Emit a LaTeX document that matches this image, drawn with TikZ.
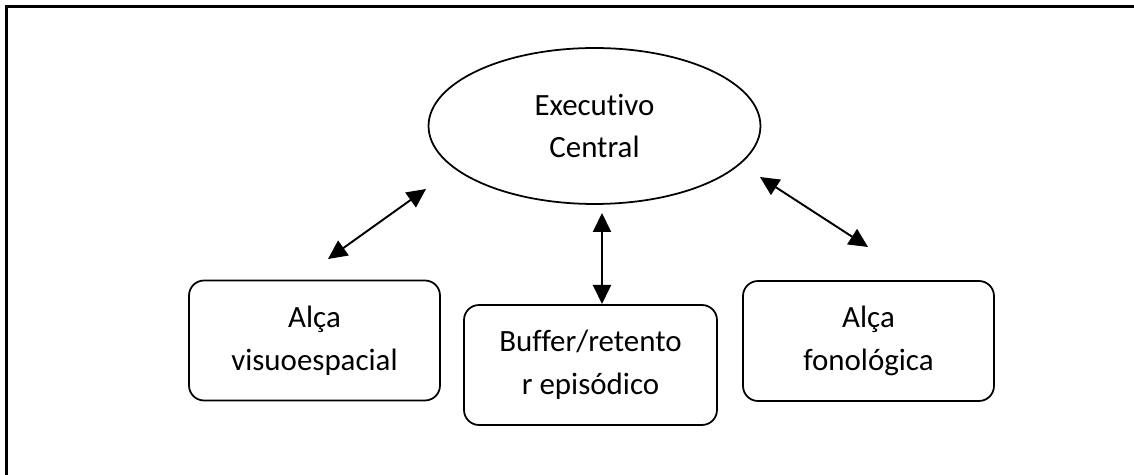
\documentclass[tikz,border=0pt]{standalone}
\usepackage{fontspec}
\setmainfont[Ligatures=NoCommon]{Carlito}
\usetikzlibrary{shapes.geometric,arrows.meta}

\begin{document}
\begin{tikzpicture}[x=0.02cm,y=-0.02cm,
	box/.style={draw, line width=1pt, rounded corners=0.3cm, minimum width=5.02cm, minimum height=2.4cm, align=center, inner sep=0pt, font=\fontsize{17.6}{24.4}\selectfont},
	dbl/.style={{Triangle[length=0.38cm,width=0.36cm]}-{Triangle[length=0.38cm,width=0.36cm]}, line width=1.1pt}]
	%\draw[help lines] (0,0) grid[step=50] (1134,475);
	\useasboundingbox (0,0) rectangle (1134,475);
	\draw[line width=1.3pt] (1134,6.5) -- (6.5,6.5) -- (6.5,475);
	\node[draw, ellipse, line width=1pt, minimum width=6.64cm, minimum height=3.12cm, inner sep=0pt, align=center, font=\fontsize{17.6}{24.4}\selectfont] (exec) at (594.5,126) {Executivo\\Central};
	\node[box] (visuo) at (314.5,340.5) {Alça\\visuoespacial};
	\node[box, minimum width=5.06cm] (buffer) at (590.5,365) {Buffer/retento\\r episódico};
	\node[box] (fono) at (868.5,341) {Alça\\fonológica};
	\coordinate (v1) at (328,259);
	\coordinate (v2) at (426,189);
	\coordinate (b1) at (602,304);
	\coordinate (b2) at (602,213);
	\coordinate (f1) at (868,247);
	\coordinate (f2) at (760,177);
	\draw[dbl] (v1) -- (v2);
	\draw[dbl] (b1) -- (b2);
	\draw[dbl] (f1) -- (f2);
\end{tikzpicture}
\end{document}
